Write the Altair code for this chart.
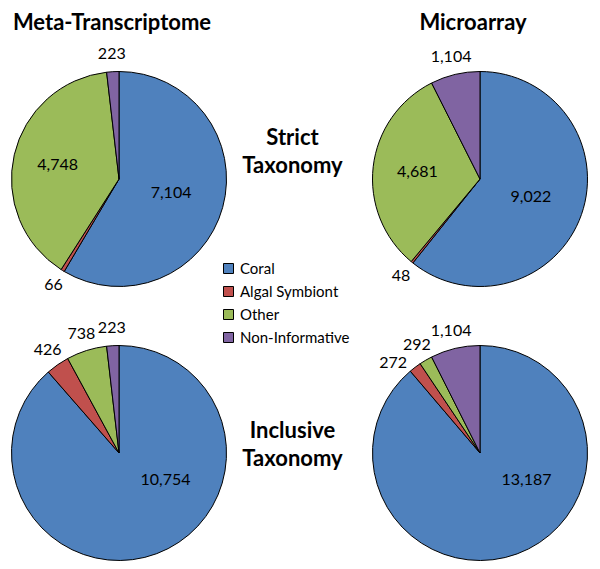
import altair as alt
import pandas as pd

categories = ["Coral", "Algal Symbiont", "Other", "Non-Informative"]
colors = ["#4F81BD", "#C0504D", "#9BBB59", "#8064A2"]

meta_strict = [7104, 66, 4748, 223]
micro_strict = [9022, 48, 4681, 1104]
meta_incl = [10754, 426, 738, 223]
micro_incl = [13187, 272, 292, 1104]

col_titles = ["Meta-Transcriptome", "Microarray"]
row_titles = [["Strict", "Taxonomy"], ["Inclusive", "Taxonomy"]]

FONT = "Lato"
D = 216
R = 107.5
MID_W = 145
TWO_PI = 6.283185307179586

legend = alt.Legend(
    title=None, orient="none", legendX=210, legendY=190,
    symbolType="square", symbolSize=100, symbolStrokeColor="black",
    symbolStrokeWidth=1, symbolOpacity=1, labelFont=FONT, labelFontSize=15,
    labelColor="black", rowPadding=7, labelOffset=4, padding=0,
)
theta_scale = alt.Scale(domain=[0, 1], range=[0, TWO_PI])
color = alt.Color("category:N", scale=alt.Scale(domain=categories, range=colors),
                  legend=legend)


def pie(values, title=None):
    df = pd.DataFrame({"category": categories, "idx": list(range(len(categories))),
                       "value": values})
    base = alt.Chart(df).transform_window(
        cum="sum(value)", sort=[alt.SortField("idx", order="ascending")], frame=[None, 0]
    ).transform_joinaggregate(total="sum(value)").transform_calculate(
        start="(datum.cum - datum.value) / datum.total",
        end="datum.cum / datum.total",
        share="datum.value / datum.total",
        mid="(datum.cum - datum.value / 2) / datum.total",
        label="format(datum.value, ',')",
    ).transform_window(
        nxt="lead(mid)", sort=[alt.SortField("idx", order="ascending")]
    ).transform_calculate(
        lab="min(datum.mid, datum.start + 0.335)",
        olab="datum.nxt != null ? min(datum.mid, datum.nxt - 0.038) : datum.mid",
        rad="datum.share > 0.5 ? 54 : 63",
    )
    arcs = base.mark_arc(outerRadius=R, stroke="black", strokeWidth=1).encode(
        theta=alt.Theta("start:Q", scale=theta_scale, stack=None),
        theta2="end:Q",
        color=color,
    )
    inner = base.transform_filter("datum.share >= 0.2").mark_text(
        font=FONT, fontSize=16, color="black"
    ).encode(theta=alt.Theta("lab:Q", scale=theta_scale, stack=None),
             radius=alt.Radius("rad:Q", scale=None),
             text="label:N")
    outer = base.transform_filter("datum.share < 0.2").mark_text(
        radius=125, font=FONT, fontSize=16, color="black"
    ).encode(theta=alt.Theta("olab:Q", scale=theta_scale, stack=None), text="label:N")
    layers = [arcs, inner, outer]
    if title is not None:
        t = alt.Chart(pd.DataFrame({"t": [title]})).mark_text(
            font=FONT, fontSize=22, fontWeight="bold", color="black",
            baseline="alphabetic", align="center"
        ).encode(x=alt.value(D / 2 - 7), y=alt.value(-41), text="t:N")
        layers.append(t)
    return alt.layer(*layers).properties(width=D, height=D)


def middle(lines, y):
    return alt.Chart(pd.DataFrame({"t": [0]})).mark_text(
        text=lines, font=FONT, fontSize=22, fontWeight="bold", color="black",
        baseline="alphabetic", align="center", lineHeight=27.5
    ).encode(x=alt.value(65.5), y=alt.value(y)).properties(width=MID_W, height=D)


chart = alt.concat(
    pie(meta_strict, col_titles[0]), middle(row_titles[0], 74), pie(micro_strict, col_titles[1]),
    pie(meta_incl), middle(row_titles[1], 93), pie(micro_incl),
    columns=3, spacing={"row": 58, "column": 0}, bounds="flush",
).properties(
    padding={"left": 1, "top": 4, "right": 0, "bottom": 0}
).configure_view(stroke=None)

chart.save("out.html", embed_options={"renderer": "svg", "actions": False})
